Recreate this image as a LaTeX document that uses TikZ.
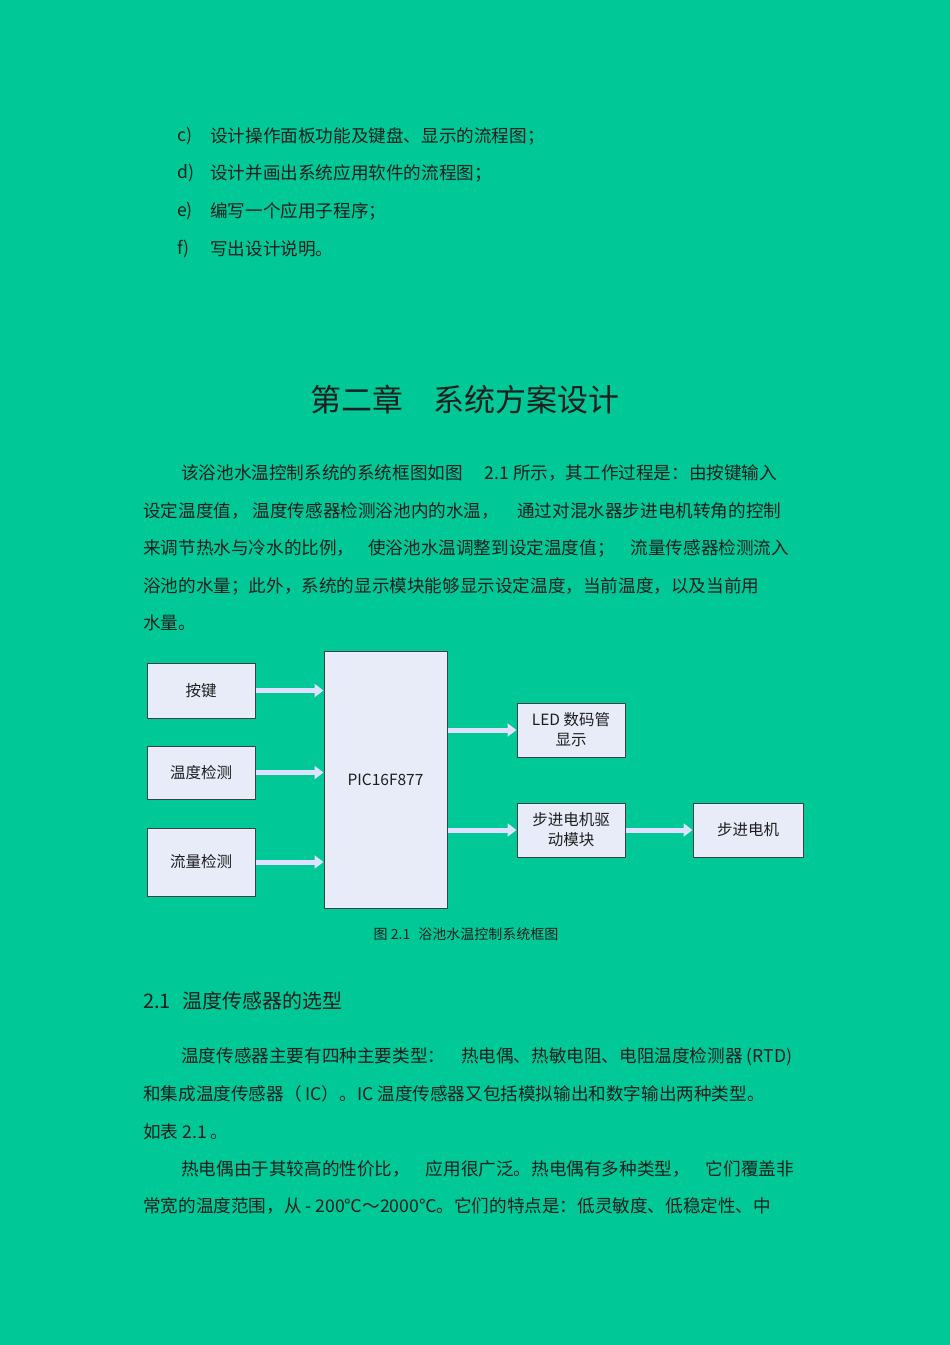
\documentclass[tikz,border=0pt]{standalone}
\usepackage{fontspec}
\setmainfont{Noto Sans CJK SC}
\usetikzlibrary{arrows.meta}
\definecolor{bg}{RGB}{0,200,150}
\definecolor{boxfill}{RGB}{232,236,248}
\definecolor{txt}{RGB}{30,30,30}
\begin{document}
\begin{tikzpicture}[x=1pt,y=-1pt,
  body/.style={anchor=west,inner sep=0pt,font=\fontsize{17.6}{17.6}\selectfont,text=txt},
  blk/.style={draw=black!75,fill=boxfill,line width=1pt,align=center,font=\fontsize{15.5}{20}\selectfont,text=txt},
  harrow/.style={draw=white!88!blue,line width=5pt,-{Triangle[length=9pt,width=13pt]}}]
\fill[bg] (0,0) rectangle (950,1345);
\useasboundingbox (0,0) rectangle (950,1345);
% list
\node[body] (lc) at (177,136) {c)};
\node[body] (tc) at (210,136) {设计操作面板功能及键盘、显示的流程图；};
\node[body] (ld) at (177,173) {d)};
\node[body] (td) at (210,173) {设计并画出系统应用软件的流程图；};
\node[body] (le) at (177,211) {e)};
\node[body] (te) at (210,211) {编写一个应用子程序；};
\node[body] (lf) at (177,249) {f)};
\node[body] (tf) at (210,249) {写出设计说明。};
% title
\node[inner sep=0pt,font=\fontsize{31}{31}\selectfont,text=txt] (title) at (465,400) {第二章\hspace{30pt}系统方案设计};
% paragraph
\node[body] (p1) at (181,473) {该浴池水温控制系统的系统框图如图\hspace{22pt}2.1 所示，其工作过程是：由按键输入};
\node[body] (p2) at (143,511) {设定温度值，\hspace{4pt}温度传感器检测浴池内的水温，\hspace{18pt}通过对混水器步进电机转角的控制};
\node[body] (p3) at (143,548) {来调节热水与冷水的比例，\hspace{14pt}使浴池水温调整到设定温度值；\hspace{16pt}流量传感器检测流入};
\node[body] (p4) at (143,586) {浴池的水量；此外，系统的显示模块能够显示设定温度，当前温度，以及当前用};
\node[body] (p5) at (143,623) {水量。};
% diagram
\node[blk,minimum width=108pt,minimum height=55pt] (key) at (201,690.5) {按键};
\node[blk,minimum width=108pt,minimum height=53pt] (temp) at (201,772.5) {温度检测};
\node[blk,minimum width=108pt,minimum height=68pt] (flow) at (201,862) {流量检测};
\node[blk,minimum width=123pt,minimum height=257pt] (pic) at (385.5,779.5) {PIC16F877};
\node[blk,minimum width=108pt,minimum height=54pt] (led) at (571,730) {LED 数码管\\显示};
\node[blk,minimum width=108pt,minimum height=54pt] (drv) at (571,830) {步进电机驱\\动模块};
\node[blk,minimum width=110pt,minimum height=54pt] (mot) at (748,830) {步进电机};
\draw[harrow] (key.east) -- (key.east -| pic.west);
\draw[harrow] (temp.east) -- (temp.east -| pic.west);
\draw[harrow] (flow.east) -- (flow.east -| pic.west);
\draw[harrow] (pic.east |- led.west) -- (led.west);
\draw[harrow] (pic.east |- drv.west) -- (drv.west);
\draw[harrow] (drv.east) -- (mot.west);
\node[inner sep=0pt,font=\fontsize{14}{14}\selectfont,text=txt] (cap) at (466,934) {图 2.1\hspace{8pt}浴池水温控制系统框图};
% section
\node[body,font=\fontsize{20}{20}\selectfont] (sec) at (143,1001) {2.1\hspace{12pt}温度传感器的选型};
\node[body] (q1) at (181,1057) {温度传感器主要有四种主要类型：\hspace{16pt}热电偶、热敏电阻、电阻温度检测器 (RTD)};
\node[body] (q2) at (143,1094) {和集成温度传感器（ IC）。IC 温度传感器又包括模拟输出和数字输出两种类型。};
\node[body] (q3) at (143,1132) {如表 2.1 。};
\node[body] (q4) at (181,1169) {热电偶由于其较高的性价比，\hspace{16pt}应用很广泛。热电偶有多种类型，\hspace{16pt}它们覆盖非};
\node[body] (q5) at (143,1206) {常宽的温度范围，从 - 200℃～2000℃。它们的特点是：低灵敏度、低稳定性、中};
\end{tikzpicture}
\end{document}
